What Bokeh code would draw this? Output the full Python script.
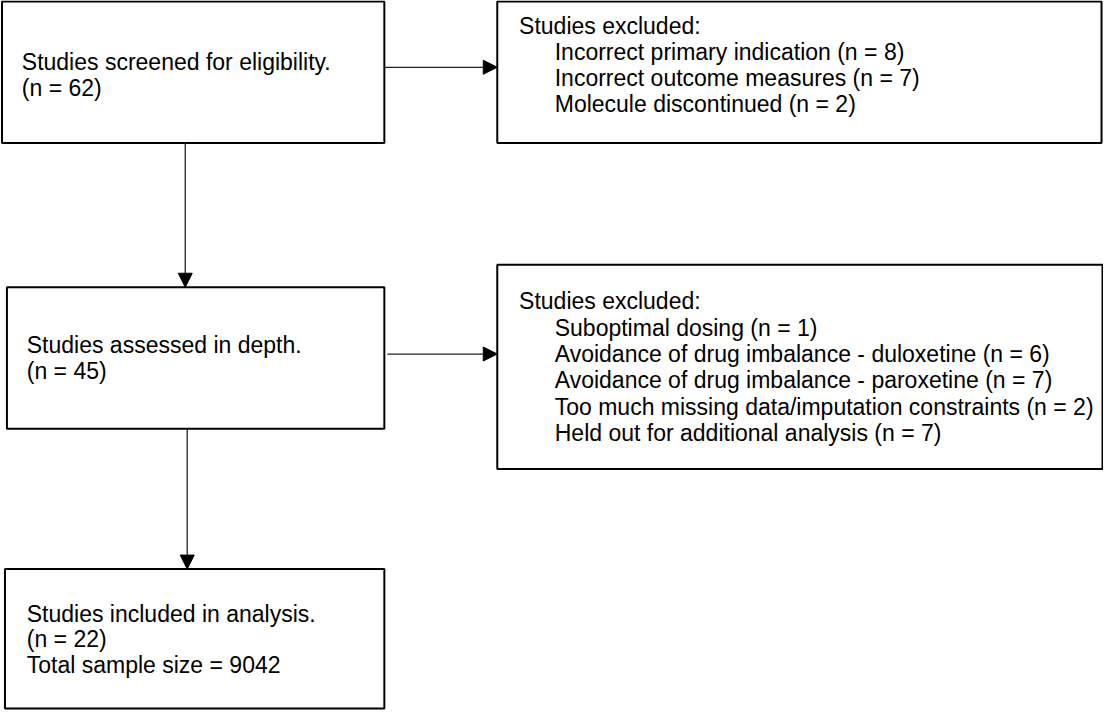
from bokeh.plotting import figure
from bokeh.models import Range1d, Arrow, NormalHead, ColumnDataSource
from bokeh.core.properties import value
from bokeh.embed import file_html
from bokeh.resources import INLINE

# ---------------- data ----------------
screened_label = "Studies screened for eligibility."
screened_n = 62
excl1_header = "Studies excluded:"
excl1_reasons = ["Incorrect primary indication", "Incorrect outcome measures", "Molecule discontinued"]
excl1_n = [8, 7, 2]
assessed_label = "Studies assessed in depth."
assessed_n = 45
excl2_header = "Studies excluded:"
excl2_reasons = ["Suboptimal dosing",
                 "Avoidance of drug imbalance - duloxetine",
                 "Avoidance of drug imbalance - paroxetine",
                 "Too much missing data/imputation constraints",
                 "Held out for additional analysis"]
excl2_n = [1, 6, 7, 2, 7]
included_label = "Studies included in analysis."
included_n = 22
total_sample = 9042

# ---------------- layout (reference pixel space) ----------------
box_left = [7, 507, 12, 507, 10]
box_right = [393, 1117, 393, 1118, 393]
box_top = [5, 5, 296, 273, 583]
box_bottom = [149, 149, 440, 481, 725]

arrow_x0 = [393, 192, 396, 194]
arrow_y0 = [72, 149, 364, 440]
arrow_x1 = [507, 192, 507, 194]
arrow_y1 = [72, 296, 364, 583]

TEXT_SHIFT = -8.5

W, H = 1103, 710
p = figure(width=W, height=H, output_backend="svg", toolbar_location=None,
           x_range=Range1d(5.5, 1119), y_range=Range1d(727, 4),
           min_border=0, background_fill_color="white", border_fill_color="white")
p.axis.visible = False
p.grid.visible = False
p.outline_line_color = None

# boxes
p.quad(left=box_left, right=box_right, top=box_top, bottom=box_bottom,
       fill_color="white", line_color="black", line_width=2)

# arrows
for x0, y0, x1, y1 in zip(arrow_x0, arrow_y0, arrow_x1, arrow_y1):
    p.add_layout(Arrow(end=NormalHead(size=14, fill_color="black", line_color="black", line_width=1),
                       x_start=x0, y_start=y0, x_end=x1, y_end=y1,
                       line_color="#222222", line_width=1.3))

# text lines
tx, ty, tt = [], [], []

def add(x, y, s):
    tx.append(x); ty.append(y + TEXT_SHIFT); tt.append(s)

# box 1
add(27, 75.5, screened_label)
add(27, 102, f"(n = {screened_n})")
# box 2
add(529, 38, excl1_header)
for i, (r, n) in enumerate(zip(excl1_reasons, excl1_n)):
    add(565, 64.5 + 26.6 * i, f"{r} (n = {n})")
# box 3
add(32, 363, assessed_label)
add(32, 390, f"(n = {assessed_n})")
# box 4
add(529, 319, excl2_header)
for i, (r, n) in enumerate(zip(excl2_reasons, excl2_n)):
    add(565, 346 + 26.7 * i, f"{r} (n = {n})")
# box 5
add(32, 637, included_label)
add(32, 663, f"(n = {included_n})")
add(32, 689, f"Total sample size = {total_sample}")

src = ColumnDataSource(dict(x=tx, y=ty, text=tt))
p.text(x="x", y="y", text="text", source=src, text_align="left", text_baseline="alphabetic",
       text_font=value("Liberation Sans"), text_font_size=value("23px"), text_color="black")

open("out.html", "w").write(file_html(p, INLINE))
